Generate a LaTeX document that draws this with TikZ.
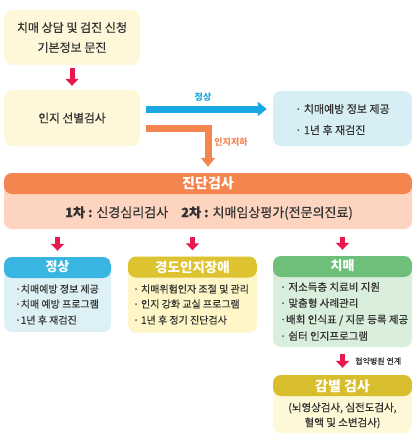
\documentclass[tikz,border=0pt]{standalone}
\usepackage{fontspec}
\setmainfont{Noto Sans CJK KR}
\newfontfamily\mf{Noto Sans CJK KR}[FakeBold=0.6]
\usetikzlibrary{arrows.meta}
\definecolor{txt}{HTML}{333333}
\definecolor{ybox}{HTML}{FEF7DA}
\definecolor{pinkA}{HTML}{E8194F}
\definecolor{blueA}{HTML}{1AA8E2}
\definecolor{orangeA}{HTML}{F5854F}
\definecolor{rbox}{HTML}{D6EEF4}
\definecolor{dbody}{HTML}{FDD4C0}
\definecolor{h1}{HTML}{38B5E1}
\definecolor{b1}{HTML}{DDF0F5}
\definecolor{h2}{HTML}{DEC330}
\definecolor{b2}{HTML}{FEF6C6}
\definecolor{h3}{HTML}{6DBF7A}
\definecolor{b3}{HTML}{D9EEDB}
\definecolor{h4}{HTML}{D8BD2D}
\definecolor{b4}{HTML}{FEF8D6}
\tikzset{
  box/.style={rounded corners=8pt, inner sep=0pt, text=txt},
  hdrbox/.style n args={2}{box, fill=#2, path picture={\fill[#1] (path picture bounding box.north west) rectangle ([yshift=-21pt]path picture bounding box.north east);}},
  hdrtext/.style={text=white, font=\bfseries\fontsize{13}{13}\selectfont, inner sep=0pt},
  bl/.style={anchor=west, inner sep=0pt, text=txt, font=\mf\fontsize{10}{10}\selectfont},
  parrow/.style={pinkA, line width=5pt, -{Triangle[width=13pt,length=7pt]}},
  flowarrow/.style={line width=7pt, -{Triangle[width=14pt,length=9pt]}},
}
\begin{document}
\begin{tikzpicture}[x=1pt,y=-1pt]
\useasboundingbox (0,0) rectangle (417,440);
% top boxes
\node[box, fill=ybox, minimum width=136pt, minimum height=55pt, align=center, font=\mf\fontsize{12}{20}\selectfont] (b1) at (72,37.5) {치매 상담 및 검진 신청\\기본정보 문진};
\node[box, fill=ybox, minimum width=136pt, minimum height=56pt, font=\mf\fontsize{11.7}{13}\selectfont] (b2) at (72,118) {인지 선별검사};
\node[box, fill=rbox, minimum width=139pt, minimum height=55pt] (rb) at (342.5,118.5) {};
\node[bl, font=\mf\fontsize{11}{11}\selectfont] (rb1) at (295,109) {· 치매예방 정보 제공};
\node[bl, font=\mf\fontsize{11}{11}\selectfont] (rb2) at (295,130) {· 1년 후 재검진};
\draw[parrow, shorten <=3pt, shorten >=4pt] (b1.south) -- (b2.north);
% flow arrows
\coordinate (bs) at (146,109);
\coordinate (os) at (146,128);
\coordinate (oc) at (208,128);
\draw[flowarrow, blueA, shorten >=6pt] (bs) -- (rb.west |- bs);
\node[text=blueA, font=\bfseries\fontsize{9}{9}\selectfont, inner sep=0pt] (lb) at (203,97) {정상};
% diagnosis box
\node[hdrbox={orangeA}{dbody}, minimum width=408pt, minimum height=56pt] (dg) at (208,201) {};
\draw[flowarrow, orangeA, shorten >=6pt] (os) -- (oc) -- (oc |- dg.north);
\node[text=orangeA, font=\bfseries\fontsize{9}{9}\selectfont, inner sep=0pt] (lo) at (231,142) {인지저하};
\node[hdrtext, font=\bfseries\fontsize{14}{14}\selectfont] (dgh) at (208,183) {진단검사};
\node[text=txt, inner sep=0pt, font=\mf\fontsize{13}{13}\selectfont] (dgb) at (209,213) {\textbf{1차 :} 신경심리검사\hspace{1em}\textbf{2차 :} 치매임상평가(전문의진료)};
% result boxes
\node[hdrbox={h1}{b1}, minimum width=107pt, minimum height=75pt] (n1) at (57.5,294.5) {};
\node[hdrbox={h2}{b2}, minimum width=129pt, minimum height=76pt] (n2) at (192.5,294.5) {};
\node[hdrbox={h3}{b3}, minimum width=139pt, minimum height=91pt] (n3) at (342.5,301.5) {};
\node[hdrbox={h4}{b4}, minimum width=139pt, minimum height=58pt] (n4) at (342.5,404) {};
\draw[parrow, shorten <=8pt, shorten >=6pt] (dg.south -| n1.north) -- (n1.north);
\draw[parrow, shorten <=8pt, shorten >=6pt] (dg.south -| n2.north) -- (n2.north);
\draw[parrow, shorten <=8pt, shorten >=6pt] (dg.south -| n3.north) -- (n3.north);
\draw[parrow, shorten <=7pt, shorten >=7pt] (n3.south) -- (n4.north);
\node[text=txt, font=\mf\fontsize{8}{8}\selectfont, inner sep=0pt, anchor=west] (lk) at (355,361) {협약병원 연계};
% headers
\node[hdrtext] (n1h) at (57.5,267) {정상};
\node[hdrtext, font=\bfseries\fontsize{13.5}{14}\selectfont] (n2h) at (192.5,267) {경도인지장애};
\node[hdrtext] (n3h) at (342.5,266) {치매};
\node[hdrtext, font=\bfseries\fontsize{14}{14}\selectfont] (n4h) at (342.5,386) {감별 검사};
% bullets
\node[bl] (a1) at (15,289) {·치매예방 정보 제공};
\node[bl] (a2) at (15,304) {·치매 예방 프로그램};
\node[bl] (a3) at (15,320) {·1년 후 재검진};
\node[bl] (c1) at (133,289) {· 치매위험인자 조절 및 관리};
\node[bl] (c2) at (133,304) {· 인지 강화 교실 프로그램};
\node[bl] (c3) at (133,320) {· 1년 후 정기 진단검사};
\node[bl, font=\mf\fontsize{10.5}{11}\selectfont] (d1) at (280,287) {· 저소득층 치료비 지원};
\node[bl, font=\mf\fontsize{10.5}{11}\selectfont] (d2) at (280,303) {· 맞춤형 사례관리};
\node[bl, font=\mf\fontsize{10.5}{11}\selectfont] (d3) at (280,320) {·배회 인식표 / 지문 등록 제공};
\node[bl, font=\mf\fontsize{10.5}{11}\selectfont] (d4) at (280,336) {· 쉼터 인지프로그램};
\node[text=txt, align=center, inner sep=0pt, font=\mf\fontsize{10.5}{15}\selectfont] (gt) at (342.5,415.5) {(뇌영상검사, 심전도검사,\\혈액 및 소변검사)};
\end{tikzpicture}
\end{document}
